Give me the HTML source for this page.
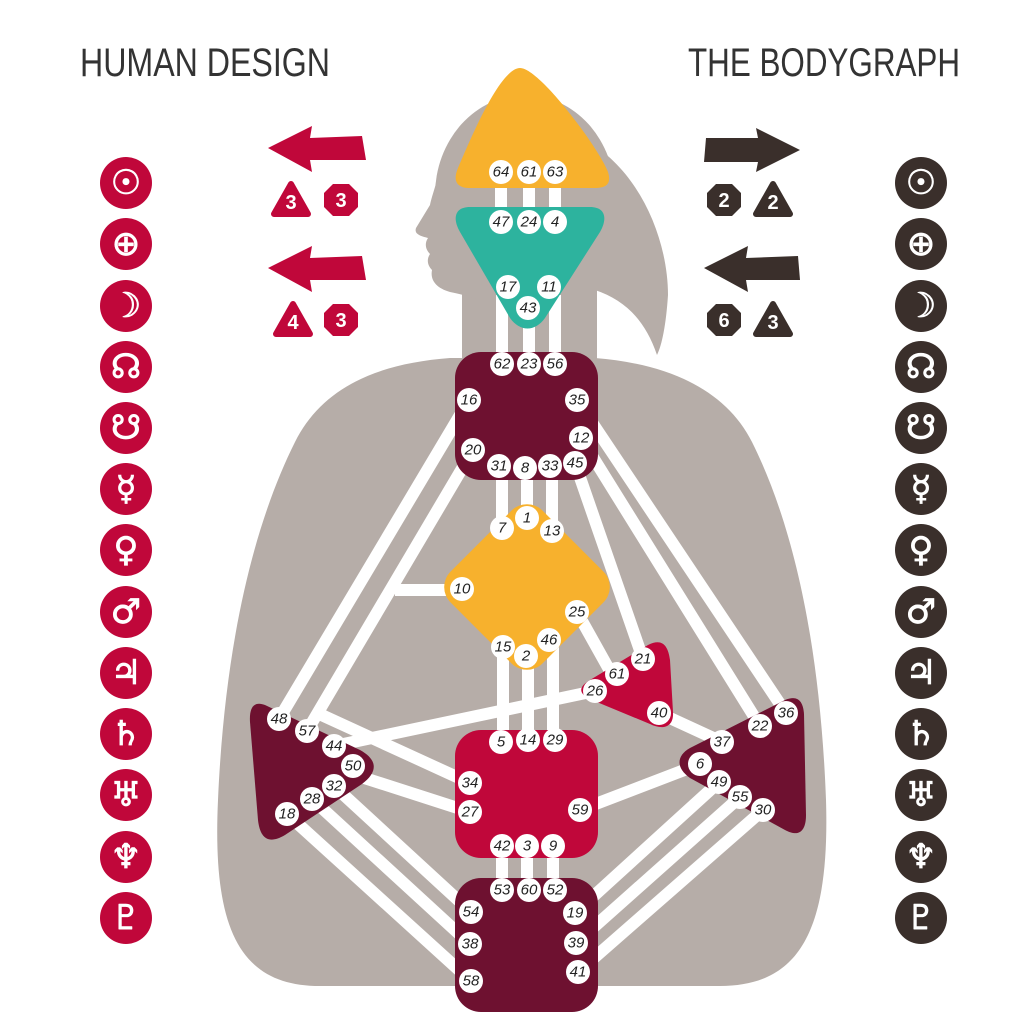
<!DOCTYPE html>
<html><head><meta charset="utf-8"><style>
html,body{margin:0;padding:0;background:#fff}
svg{display:block}
.g text{font-family:"Liberation Sans",sans-serif;font-style:italic;font-size:15px;fill:#222;text-anchor:middle;dominant-baseline:central}
.pl{font-family:"DejaVu Sans",sans-serif;font-size:34px;fill:#fff;text-anchor:middle;dominant-baseline:central;stroke:#fff;stroke-width:0.8}
.bd{font-family:"Liberation Sans",sans-serif;font-weight:bold;font-size:20px;fill:#fff;text-anchor:middle;dominant-baseline:central}
.tt{font-family:"Liberation Sans",sans-serif;font-size:40px;fill:#333}
</style></head><body>
<svg width="1024" height="1024" viewBox="0 0 1024 1024">
<text class="tt" x="80" y="76" textLength="250" lengthAdjust="spacingAndGlyphs">HUMAN DESIGN</text>
<text class="tt" x="688" y="76" textLength="272" lengthAdjust="spacingAndGlyphs">THE BODYGRAPH</text>

<!-- silhouette -->
<g fill="#b6ada8">
<path d="M450 358 C370 364 320 392 295 442 C255 522 225 640 218 800 C212 930 240 986 320 986 L720 986 C800 986 830 930 826 800 C820 640 792 522 752 442 C727 392 672 364 595 358 Z"/>
<rect x="462" y="240" width="135" height="130"/>
<ellipse cx="525" cy="195" rx="90" ry="100"/>
<path d="M445 150 C438 180 432 195 430 205 L416 228 C414 234 420 236 428 238 C424 244 426 250 430 254 C426 260 428 266 432 270 C430 280 436 288 450 292 C470 296 480 300 480 300 L490 200 Z"/>
<path d="M585 140 C640 170 668 240 668 295 C666 325 662 345 657 355 C645 320 625 300 595 290 Z"/>
</g>

<!-- channels -->
<g stroke="#fff" stroke-width="12" fill="none">
<path d="M501 180V215M529 180V215M555 180V215"/>
<path d="M502 295V360M529 300V360M555 295V360"/>
<path d="M502 470V528M527 470V518M552 470V531"/>
<path d="M503 650V742M528 656V740M553 640V740"/>
<path d="M502 850V890M527 850V890M553 850V890"/>
<path d="M469 400L279 719M473 450L307 731M395 590H462"/>
<path d="M315 712L470 783M355 775L470 812M334 746L595 691"/>
<path d="M287 814L471 981M312 799L470 944M334 786L471 912"/>
<path d="M577 400L786 713M581 438L760 726M575 463L643 659M577 612L615 680"/>
<path d="M659 713L722 742M580 810L700 764"/>
<path d="M719 782L575 913M740 797L576 943M763 810L578 972"/>
</g>

<!-- centers -->
<path d="M520 68 C540 68 600 150 608 172 C612 185 605 188 595 188 L470 188 C458 188 452 182 458 168 C470 140 500 68 520 68Z" fill="#f7b12d"/>
<path d="M470 207 L590 207 C605 207 608 218 600 232 L545 318 C535 332 520 332 510 318 L460 232 C452 218 455 207 470 207Z" fill="#2db39e"/>
<rect x="455" y="352" width="143" height="128" rx="26" fill="#6e1130"/>
<rect x="462" y="522" width="130" height="130" rx="22" transform="rotate(45 527 587)" fill="#f7b12d"/>
<path d="M590 680 L648 645 C662 638 668 645 670 660 L673 712 C674 728 662 730 650 724 L592 700 C578 694 578 687 590 680Z" fill="#c0073a"/>
<rect x="455" y="730" width="143" height="128" rx="26" fill="#c0073a"/>
<rect x="455" y="878" width="143" height="134" rx="26" fill="#6e1130"/>
<path d="M265 705 L360 750 C378 760 378 772 362 784 L285 835 C268 845 260 838 258 820 L250 722 C249 706 255 701 265 705Z" fill="#6e1130"/>
<path d="M785 700 L690 748 C676 756 676 768 690 778 L785 830 C800 838 806 830 806 815 L804 714 C803 700 797 695 785 700Z" fill="#6e1130"/>

<!-- gates -->
<g class="g">
<g fill="#fff">
<circle cx="501" cy="172" r="12"/><circle cx="529" cy="172" r="12"/><circle cx="555" cy="172" r="12"/>
<circle cx="501" cy="222" r="12"/><circle cx="529" cy="222" r="12"/><circle cx="555" cy="222" r="12"/>
<circle cx="508" cy="287" r="12"/><circle cx="549" cy="287" r="12"/><circle cx="528" cy="308" r="12"/>
<circle cx="502" cy="364" r="12"/><circle cx="529" cy="364" r="12"/><circle cx="555" cy="364" r="12"/>
<circle cx="469" cy="400" r="12"/><circle cx="577" cy="400" r="12"/><circle cx="581" cy="438" r="12"/>
<circle cx="473" cy="450" r="12"/><circle cx="499" cy="466" r="12"/><circle cx="525" cy="468" r="12"/><circle cx="550" cy="466" r="12"/><circle cx="575" cy="463" r="12"/>
<circle cx="502" cy="528" r="12"/><circle cx="527" cy="518" r="12"/><circle cx="552" cy="531" r="12"/>
<circle cx="462" cy="589" r="12"/><circle cx="577" cy="612" r="12"/>
<circle cx="503" cy="647" r="12"/><circle cx="526" cy="656" r="12"/><circle cx="549" cy="640" r="12"/>
<circle cx="643" cy="659" r="12"/><circle cx="617" cy="674" r="12"/><circle cx="595" cy="691" r="12"/><circle cx="659" cy="713" r="12"/>
<circle cx="501" cy="742" r="12"/><circle cx="528" cy="740" r="12"/><circle cx="555" cy="740" r="12"/>
<circle cx="470" cy="783" r="12"/><circle cx="470" cy="812" r="12"/><circle cx="580" cy="810" r="12"/>
<circle cx="502" cy="846" r="12"/><circle cx="527" cy="846" r="12"/><circle cx="553" cy="846" r="12"/>
<circle cx="502" cy="890" r="12"/><circle cx="529" cy="890" r="12"/><circle cx="555" cy="890" r="12"/>
<circle cx="471" cy="912" r="12"/><circle cx="575" cy="913" r="12"/><circle cx="470" cy="944" r="12"/><circle cx="576" cy="943" r="12"/>
<circle cx="471" cy="981" r="12"/><circle cx="578" cy="972" r="12"/>
<circle cx="279" cy="719" r="12"/><circle cx="307" cy="731" r="12"/><circle cx="334" cy="746" r="12"/><circle cx="353" cy="766" r="12"/>
<circle cx="334" cy="786" r="12"/><circle cx="312" cy="799" r="12"/><circle cx="287" cy="814" r="12"/>
<circle cx="786" cy="713" r="12"/><circle cx="760" cy="726" r="12"/><circle cx="722" cy="742" r="12"/><circle cx="700" cy="764" r="12"/>
<circle cx="719" cy="782" r="12"/><circle cx="740" cy="797" r="12"/><circle cx="763" cy="810" r="12"/>
</g>
<text x="501" y="172">64</text><text x="529" y="172">61</text><text x="555" y="172">63</text>
<text x="501" y="222">47</text><text x="529" y="222">24</text><text x="555" y="222">4</text>
<text x="508" y="287">17</text><text x="549" y="287">11</text><text x="528" y="308">43</text>
<text x="502" y="364">62</text><text x="529" y="364">23</text><text x="555" y="364">56</text>
<text x="469" y="400">16</text><text x="577" y="400">35</text><text x="581" y="438">12</text>
<text x="473" y="450">20</text><text x="499" y="466">31</text><text x="525" y="468">8</text><text x="550" y="466">33</text><text x="575" y="463">45</text>
<text x="502" y="528">7</text><text x="527" y="518">1</text><text x="552" y="531">13</text>
<text x="462" y="589">10</text><text x="577" y="612">25</text>
<text x="503" y="647">15</text><text x="526" y="656">2</text><text x="549" y="640">46</text>
<text x="643" y="659">21</text><text x="617" y="674">61</text><text x="595" y="691">26</text><text x="659" y="713">40</text>
<text x="501" y="742">5</text><text x="528" y="740">14</text><text x="555" y="740">29</text>
<text x="470" y="783">34</text><text x="470" y="812">27</text><text x="580" y="810">59</text>
<text x="502" y="846">42</text><text x="527" y="846">3</text><text x="553" y="846">9</text>
<text x="502" y="890">53</text><text x="529" y="890">60</text><text x="555" y="890">52</text>
<text x="471" y="912">54</text><text x="575" y="913">19</text><text x="470" y="944">38</text><text x="576" y="943">39</text>
<text x="471" y="981">58</text><text x="578" y="972">41</text>
<text x="279" y="719">48</text><text x="307" y="731">57</text><text x="334" y="746">44</text><text x="353" y="766">50</text>
<text x="334" y="786">32</text><text x="312" y="799">28</text><text x="287" y="814">18</text>
<text x="786" y="713">36</text><text x="760" y="726">22</text><text x="722" y="742">37</text><text x="700" y="764">6</text>
<text x="719" y="782">49</text><text x="740" y="797">55</text><text x="763" y="810">30</text>
</g>

<!-- arrows -->
<g fill="#c0073a">
<path d="M268 148 L312 126 L310 138 L362 136 L366 160 L310 160 L312 172Z"/>
<path d="M268 268 L312 246 L310 258 L362 256 L366 280 L310 280 L312 292Z"/>
</g>
<g fill="#3a2f2b">
<path d="M800 150 L756 128 L758 138 L706 138 L704 162 L758 162 L756 172Z"/>
<path d="M704 268 L748 246 L746 258 L798 256 L800 280 L746 280 L748 292Z"/>
</g>
<!-- badges -->
<g>
<path d="M291 184 L308 214 L274 214Z" fill="#c0073a" stroke="#c0073a" stroke-width="6" stroke-linejoin="round"/>
<polygon points="333,184 349,184 358,193 358,207 349,216 333,216 324,207 324,193" fill="#c0073a"/>
<path d="M293 304 L310 334 L276 334Z" fill="#c0073a" stroke="#c0073a" stroke-width="6" stroke-linejoin="round"/>
<polygon points="333,304 349,304 358,313 358,327 349,336 333,336 324,327 324,313" fill="#c0073a"/>
<polygon points="716,184 732,184 741,193 741,207 732,216 716,216 707,207 707,193" fill="#3a2f2b"/>
<path d="M773 184 L790 214 L756 214Z" fill="#3a2f2b" stroke="#3a2f2b" stroke-width="6" stroke-linejoin="round"/>
<polygon points="716,304 732,304 741,313 741,327 732,336 716,336 707,327 707,313" fill="#3a2f2b"/>
<path d="M773 304 L790 334 L756 334Z" fill="#3a2f2b" stroke="#3a2f2b" stroke-width="6" stroke-linejoin="round"/>
<text class="bd" x="291" y="203">3</text><text class="bd" x="341" y="201">3</text>
<text class="bd" x="293" y="323">4</text><text class="bd" x="341" y="321">3</text>
<text class="bd" x="724" y="201">2</text><text class="bd" x="773" y="203">2</text>
<text class="bd" x="724" y="321">6</text><text class="bd" x="773" y="323">3</text>
</g>

<!-- planets -->
<g fill="#c0073a">
<circle cx="126" cy="183" r="26"/><circle cx="126" cy="244" r="26"/><circle cx="126" cy="306" r="26"/><circle cx="126" cy="367" r="26"/><circle cx="126" cy="428" r="26"/><circle cx="126" cy="489" r="26"/><circle cx="126" cy="550" r="26"/><circle cx="126" cy="612" r="26"/><circle cx="126" cy="673" r="26"/><circle cx="126" cy="734" r="26"/><circle cx="126" cy="795" r="26"/><circle cx="126" cy="857" r="26"/><circle cx="126" cy="918" r="26"/>
</g>
<g fill="#3a2f2b">
<circle cx="921" cy="183" r="26"/><circle cx="921" cy="244" r="26"/><circle cx="921" cy="306" r="26"/><circle cx="921" cy="367" r="26"/><circle cx="921" cy="428" r="26"/><circle cx="921" cy="489" r="26"/><circle cx="921" cy="550" r="26"/><circle cx="921" cy="612" r="26"/><circle cx="921" cy="673" r="26"/><circle cx="921" cy="734" r="26"/><circle cx="921" cy="795" r="26"/><circle cx="921" cy="857" r="26"/><circle cx="921" cy="918" r="26"/>
</g>
<g class="pl">
<text x="126" y="183">☉</text><text x="126" y="244">⊕</text><text x="126" y="306">☽</text><text x="126" y="367">☊</text><text x="126" y="428">☋</text><text x="126" y="489">☿</text><text x="126" y="550">♀</text><text x="126" y="612">♂</text><text x="126" y="673">♃</text><text x="126" y="734">♄</text><text x="126" y="795">♅</text><text x="126" y="857">♆</text><text x="126" y="918">♇</text>
<text x="921" y="183">☉</text><text x="921" y="244">⊕</text><text x="921" y="306">☽</text><text x="921" y="367">☊</text><text x="921" y="428">☋</text><text x="921" y="489">☿</text><text x="921" y="550">♀</text><text x="921" y="612">♂</text><text x="921" y="673">♃</text><text x="921" y="734">♄</text><text x="921" y="795">♅</text><text x="921" y="857">♆</text><text x="921" y="918">♇</text>
</g>
</svg>
</body></html>
